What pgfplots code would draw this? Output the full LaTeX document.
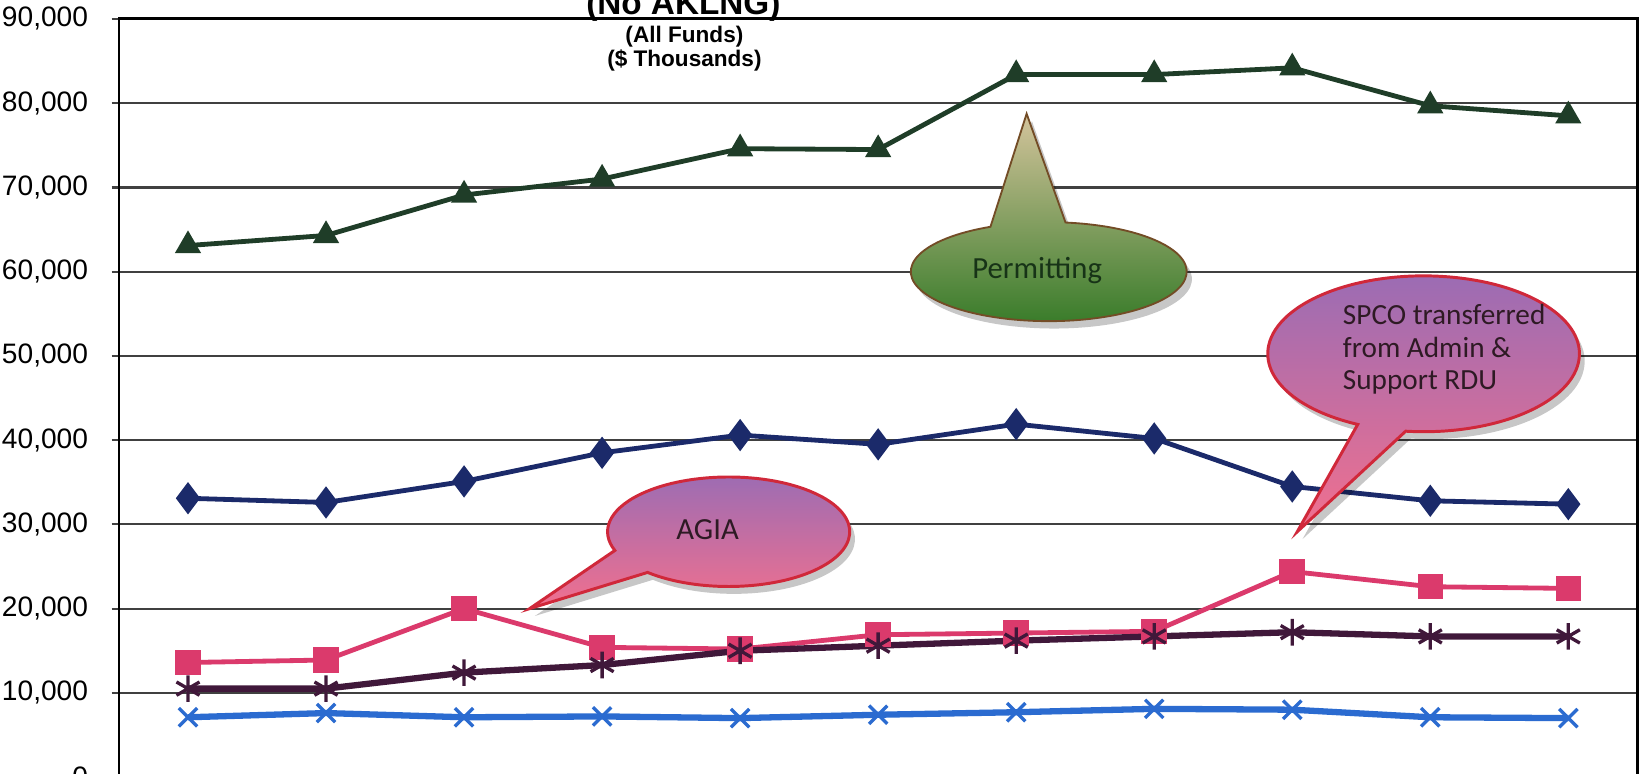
\documentclass[border=0pt]{standalone}
\usepackage{fontspec}
\setmainfont{Liberation Sans}
\newfontfamily\calibri{Carlito}
\usepackage{pgfplots}
\pgfplotsset{compat=1.18}

\definecolor{permit}{HTML}{1F3D28}
\definecolor{navy}{HTML}{1B2A6A}
\definecolor{pinkc}{HTML}{DB3A6C}
\definecolor{purp}{HTML}{40183A}
\definecolor{bluex}{HTML}{2B6BD0}
\definecolor{callred}{HTML}{D0283A}
\definecolor{calltop}{HTML}{9A6CB4}
\definecolor{callbot}{HTML}{F2708E}
\definecolor{greentip}{HTML}{D4C49C}
\definecolor{greenmid}{HTML}{6A9E45}
\definecolor{greenbot}{HTML}{357A27}
\definecolor{greentext}{HTML}{173317}
\definecolor{calltext}{HTML}{2E1A24}

\pgfplotstableread{
x permit navy pink purp bluex
0 63100 33100 13600 10500 7100
1 64300 32600 13900 10500 7600
2 69100 35100 20000 12400 7100
3 71000 38500 15400 13300 7200
4 74600 40600 15200 15000 7000
5 74500 39500 16900 15600 7400
6 83400 41900 17100 16200 7700
7 83400 40200 17300 16700 8100
8 84200 34500 24400 17200 8000
9 79700 32800 22600 16700 7100
10 78500 32400 22400 16700 7000
}\data

\begin{document}
\begin{tikzpicture}
\begin{axis}[
  scale only axis, width=14.42cm, height=7.2cm,
  xmin=-0.5, xmax=10.5, ymin=0, ymax=90000,
  xtick=\empty,
  ytick={0,10000,...,90000},
  ytick pos=left,
  scaled y ticks=false,
  /pgf/number format/1000 sep={,},
  /pgf/number format/assume math mode=true,
  ymajorgrids,
  grid style={draw=black!75, line width=0.6pt},
  axis line style={black, line width=0.8pt},
  tick align=outside, major tick length=0.7mm,
  tick style={black!75, line width=0.6pt},
  yticklabel style={font=\fontsize{7.6}{9}\selectfont, xshift=-1mm},
  clip=false,
]
\addplot[navy, line width=1.3pt, mark=diamond*, mark size=3.3pt] table[x=x,y=navy]{\data};
\addplot[permit, line width=1.3pt, mark=triangle*, mark size=2.8pt] table[x=x,y=permit]{\data};
\addplot[pinkc, line width=1.3pt, mark=square*, mark size=2.8pt] table[x=x,y=pink]{\data};
\addplot[purp, line width=1.7pt, mark=asterisk, mark size=3.6pt, mark options={line width=0.9pt}] table[x=x,y=purp]{\data};
\addplot[bluex, line width=1.7pt, mark=x, mark size=3.5pt, mark options={line width=0.9pt}] table[x=x,y=bluex]{\data};
\end{axis}

\begin{scope}[shift={(-1.13cm,0cm)}, x=0.1mm, y=0.1mm]
  % titles
  \node[font=\fontsize{9}{10}\selectfont\bfseries, anchor=base] at (649,724) {(No AKLNG)};
  \node[font=\fontsize{6.1}{7}\selectfont\bfseries] at (650,703) {(All Funds)};
  \node[font=\fontsize{6.1}{7}\selectfont\bfseries] at (650,681) {(\$ Thousands)};

  % Permitting callout
  \path[fill=black, opacity=0.22]
    (1001,473) ++(115:131 and 47) arc[start angle=115, end angle=443, x radius=131, y radius=47] -- (980,623) -- cycle;
  \path[draw=brown!60!black, line width=0.5pt, top color=greentip, middle color=greenmid, bottom color=greenbot]
    (996,480) ++(115:131 and 47) arc[start angle=115, end angle=443, x radius=131, y radius=47] -- (975,630) -- cycle;
  \node[font=\calibri\fontsize{8.3}{10}\selectfont, text=greentext] at (985,481) {Permitting};

  % SPCO callout
  \path[fill=black, opacity=0.22]
    (1357,395) ++(263.4:148 and 74) arc[start angle=263.4, end angle=605, x radius=148, y radius=74] -- (1237,226) -- cycle;
  \path[draw=callred, line width=0.8pt, top color=calltop, bottom color=callbot]
    (1352,402) ++(263.4:148 and 74) arc[start angle=263.4, end angle=605, x radius=148, y radius=74] -- (1232,233) -- cycle;
  \node[font=\calibri\fontsize{7.9}{8.8}\selectfont, text=calltext, anchor=west, align=left] at (1263,406)
    {SPCO transferred\\from Admin \&\\Support RDU};

  % AGIA callout
  \path[fill=black, opacity=0.22]
    (697,226) ++(228:115 and 52) arc[start angle=228, end angle=560, x radius=115, y radius=52] -- (508,153) -- cycle;
  \path[draw=callred, line width=0.8pt, top color=calltop, bottom color=callbot]
    (692,233) ++(228:115 and 52) arc[start angle=228, end angle=560, x radius=115, y radius=52] -- (503,160) -- cycle;
  \node[font=\calibri\fontsize{8.3}{10}\selectfont, text=calltext] at (672,235) {AGIA};
\end{scope}

\pgfresetboundingbox
\useasboundingbox (-1.13cm,0.03cm) rectangle (14.55cm,7.38cm);
\end{tikzpicture}
\end{document}
